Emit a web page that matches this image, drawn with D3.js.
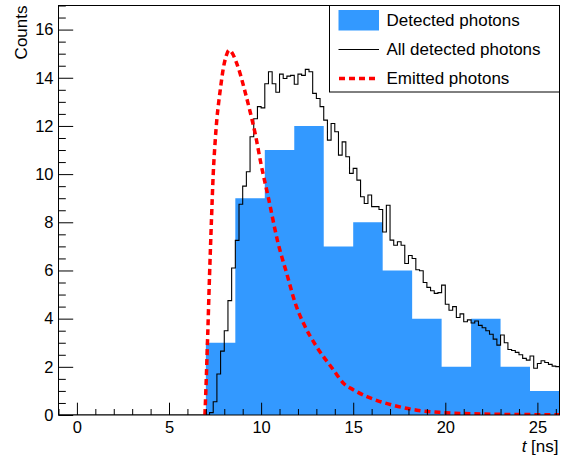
<!DOCTYPE html>
<html>
<head>
<meta charset="utf-8">
<script src="https://cdn.jsdelivr.net/npm/d3@7"></script>
<style>
  body { margin: 0; background: #fff; }
  svg { display: block; font-family: "Liberation Sans", Arial, sans-serif; }
</style>
</head>
<body>
<svg id="chart" width="569" height="456"></svg>
<script>
// detected photons, 1.6 ns bins starting at 7 ns
const detectedStart = 7.0;
const detectedWidth = 1.6;
const detectedCounts = [3, 9, 11, 12, 7, 8, 6, 4, 2, 4, 2, 1];

// all detected photons, 0.2 ns bins starting at 7 ns
const allStart = 7.0;
const allWidth = 0.2;
const allCounts = [
  0, 0.1, 0.55, 1.7, 2.65, 3.5, 4.75, 6.1, 7.25, 8.75,
  9.5, 10.1, 11.55, 12.3, 12.8, 12.75, 13.75, 14.25, 13.75, 13.4,
  14.15, 13.97, 14.07, 14.1, 13.73, 14.15, 14.1, 14.35, 14.25, 13.35,
  13.14, 12.8, 12.24, 11.41, 12.1, 11.76, 10.79, 11.34, 10.72, 10.03,
  10.24, 9.75, 9.06, 8.78, 9.13, 8.65, 8.65, 8.53, 7.6, 8.71,
  7.26, 7.05, 7.19, 7.05, 6.29, 6.62, 6.5, 6.03, 5.99, 5.5,
  5.3, 5.16, 5.05, 5.08, 5.39, 4.6, 4.35, 4.5, 4.05, 4.2,
  3.87, 3.95, 3.82, 3.9, 3.72, 3.62, 3.5, 3.35, 3.15, 2.9,
  3.32, 3.0, 2.72, 2.68, 2.6, 2.5, 2.35, 2.28, 2.45, 1.94,
  2.14, 2.25, 2.18, 2.1, 2.03, 2.01
];

// emitted photons curve
const emittedT = [6.95, 7.0, 7.1, 7.2, 7.3, 7.4, 7.5, 7.6, 7.7, 7.8, 7.95, 8.1, 8.27, 8.45, 8.65, 8.85, 9.1, 9.4, 9.7, 10.0,
  10.4, 10.9, 11.4, 11.85, 12.4, 13.0, 13.9, 14.5, 15.0, 15.75, 16.3, 17.2, 18.45, 19.9, 22.0, 24.0, 26.2];
const emittedV = [0, 1.0, 3.3, 5.8, 8.0, 10.0, 11.3, 12.3, 13.0, 13.6, 14.4, 14.9, 15.15, 15.0, 14.65, 14.2, 13.5, 12.6, 11.6, 10.4,
  9.0, 7.2, 5.85, 4.65, 3.65, 2.85, 1.9, 1.3, 1.05, 0.76, 0.6, 0.4, 0.2, 0.1, 0.04, 0.02, 0.01];

const xMajor = [0, 5, 10, 15, 20, 25];
const xMinor = d3.range(-1, 27).filter(d => d % 5 !== 0);
const yMajor = [0, 2, 4, 6, 8, 10, 12, 14, 16];
const yMinor = d3.range(0, 17.01, 0.5).filter(d => d % 2 !== 0);

const legendLabels = ["Detected photons", "All detected photons", "Emitted photons"];

const frameL = 58.5, frameR = 559.5, frameT = 5.5, frameB = 415;
const svg = d3.select("#chart");

const x = d3.scaleLinear().domain([-1, 26.2]).range([frameL, frameR]);
const y = d3.scaleLinear().domain([0, 17]).range([frameB, frameT]);

svg.append("defs").append("clipPath").attr("id", "plotclip")
  .append("rect").attr("x", frameL).attr("y", frameT)
  .attr("width", frameR - frameL).attr("height", frameB - frameT);

const plot = svg.append("g").attr("clip-path", "url(#plotclip)");

// blue histogram as a step area
let blueData = detectedCounts.map((v, i) => ({t: detectedStart + i * detectedWidth, v: v}));
blueData.push({t: detectedStart + detectedCounts.length * detectedWidth, v: 0});
let area = d3.area().x(d => x(d.t)).y0(y(0)).y1(d => y(d.v)).curve(d3.curveStepAfter);
plot.append("path")
  .attr("d", area(blueData))
  .attr("fill", "#3399ff");

// all detected photons outline
let allData = [{t: -1, v: 0}];
allCounts.forEach((v, i) => allData.push({t: allStart + i * allWidth, v: v}));
allData.push({t: allStart + allCounts.length * allWidth, v: allCounts[allCounts.length - 1]});
let stepLine = d3.line().x(d => x(d.t)).y(d => y(d.v)).curve(d3.curveStepAfter);
plot.append("path")
  .attr("d", stepLine(allData))
  .attr("fill", "none")
  .attr("stroke", "#000")
  .attr("stroke-width", 1.1);

// emitted photons
let emitData = emittedT.map((t, i) => ({t: t, v: emittedV[i]}));
let curve = d3.line().x(d => x(d.t)).y(d => y(d.v)).curve(d3.curveMonotoneX);
plot.append("path")
  .attr("d", curve(emitData))
  .attr("fill", "none")
  .attr("stroke", "#ff0000")
  .attr("stroke-width", 3.5)
  .attr("stroke-dasharray", "6,4");

// axes, ticks point inwards
svg.append("g").attr("transform", `translate(${frameL},0)`)
  .call(d3.axisLeft(y).tickValues(yMajor).tickSizeInner(-14.7).tickSizeOuter(0).tickPadding(5));
svg.append("g").attr("transform", `translate(${frameL},0)`)
  .call(d3.axisLeft(y).tickValues(yMinor).tickFormat("").tickSizeInner(-7.3).tickSizeOuter(0));
svg.append("g").attr("transform", `translate(0,${frameB})`)
  .call(d3.axisBottom(x).tickValues(xMajor).tickSizeInner(-12.3).tickSizeOuter(0).tickPadding(6));
svg.append("g").attr("transform", `translate(0,${frameB})`)
  .call(d3.axisBottom(x).tickValues(xMinor).tickFormat("").tickSizeInner(-6).tickSizeOuter(0));
svg.selectAll(".domain").remove();
svg.selectAll(".tick line").attr("stroke", "#000");
svg.selectAll(".tick text")
  .attr("font-family", "'Liberation Sans', Arial, sans-serif")
  .attr("font-size", 16.5)
  .attr("fill", "#000");

// frame
svg.append("rect")
  .attr("x", frameL).attr("y", frameT)
  .attr("width", frameR - frameL).attr("height", frameB - frameT)
  .attr("fill", "none")
  .attr("stroke", "#000")
  .attr("stroke-width", 1);

// axis titles
svg.append("text")
  .attr("transform", `translate(27,${frameT}) rotate(-90)`)
  .attr("text-anchor", "end")
  .attr("font-size", 17)
  .text("Counts");

let xt = svg.append("text")
  .attr("x", frameR - 1).attr("y", 451.5)
  .attr("text-anchor", "end")
  .attr("font-size", 17);
xt.append("tspan").attr("font-style", "italic").text("t");
xt.append("tspan").text(" [ns]");

// legend
let legend = svg.append("g");
legend.append("rect")
  .attr("x", 329.5).attr("y", frameT)
  .attr("width", frameR - 329.5).attr("height", 86.5)
  .attr("fill", "#fff")
  .attr("stroke", "#000");
legend.append("rect")
  .attr("x", 338.5).attr("y", 10)
  .attr("width", 40.5).attr("height", 20.5)
  .attr("fill", "#3399ff");
legend.append("line")
  .attr("x1", 338.5).attr("x2", 379).attr("y1", 49.5).attr("y2", 49.5)
  .attr("stroke", "#000").attr("stroke-width", 1.1);
legend.append("line")
  .attr("x1", 339).attr("x2", 379).attr("y1", 78.5).attr("y2", 78.5)
  .attr("stroke", "#ff0000").attr("stroke-width", 3.5)
  .attr("stroke-dasharray", "6,4");
legend.selectAll("text.lab").data(legendLabels).enter().append("text")
  .attr("class", "lab")
  .attr("x", 386.5)
  .attr("y", (d, i) => [26, 55, 83.5][i])
  .attr("font-size", 17)
  .text(d => d);
</script>
</body>
</html>
